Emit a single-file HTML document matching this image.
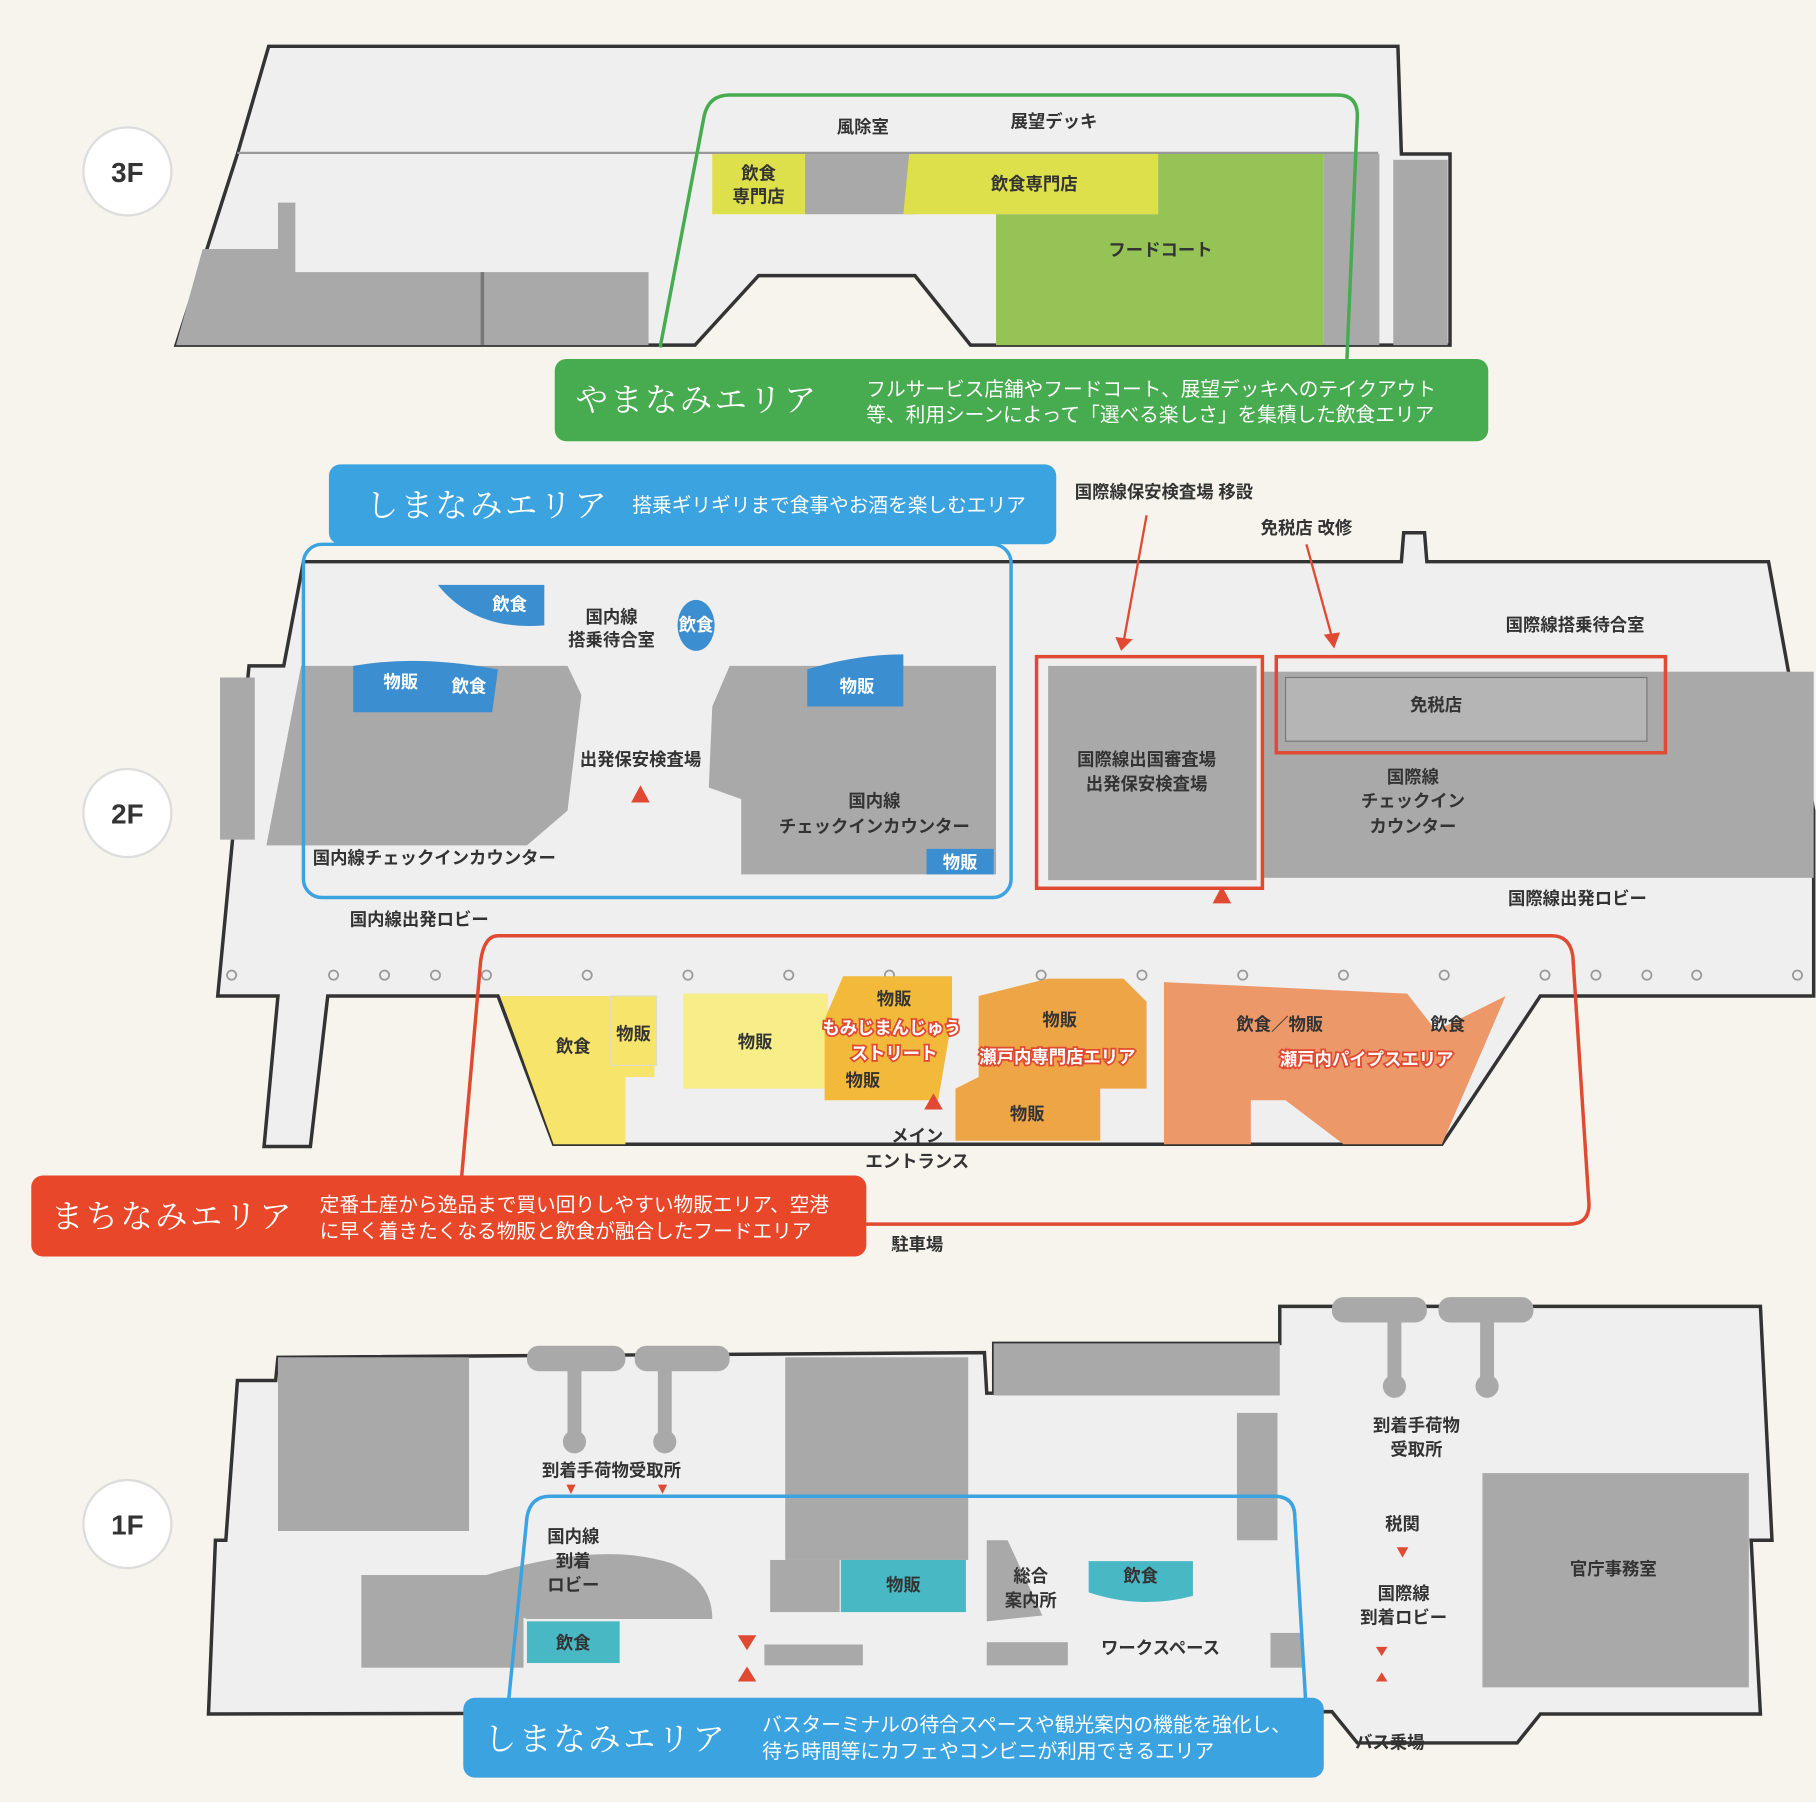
<!DOCTYPE html>
<html><head><meta charset="utf-8"><style>
html,body{margin:0;padding:0;background:#f6f4ec}
svg{display:block}
text{font-family:"Liberation Sans","Noto Sans CJK JP",sans-serif}
.l{font-size:15px;font-weight:bold;fill:#333}
.w{font-size:15px;font-weight:bold;fill:#fff}
.h{font-size:28px;fill:#fff;letter-spacing:2px;font-family:"Noto Serif CJK SC","Liberation Serif",serif}
.d{font-size:17px;fill:#fff}
</style></head><body>
<svg width="1816" height="1802" viewBox="0 0 1568 1556" preserveAspectRatio="none" xmlns="http://www.w3.org/2000/svg">
<rect width="1568" height="1556" fill="#f6f4ec"/>
<g fill="#fff" stroke="#ddd" stroke-width="2">
<circle cx="110" cy="148" r="38"/><circle cx="110" cy="702" r="38"/><circle cx="110" cy="1316" r="38"/></g>
<g font-size="24" font-weight="bold" fill="#333" text-anchor="middle"><text x="110" y="157">3F</text><text x="110" y="711">2F</text><text x="110" y="1325">1F</text></g>

<!-- 3F -->
<polygon points="232,40 1207,40 1210,133 1252,133 1252,298 838,298 790,238 655,238 600,298 152,298 205,133" fill="#efefef" stroke="#333" stroke-width="3"/>
<polygon points="175,215 240,215 240,175 255,175 255,235 560,235 560,298 152,298" fill="#a9a9a9"/>
<rect x="415" y="235" width="3" height="63" fill="#777"/>
<rect x="695" y="133" width="95" height="52" fill="#a9a9a9"/>
<rect x="1143" y="133" width="48" height="165" fill="#a9a9a9"/>
<rect x="1203" y="138" width="47" height="160" fill="#a9a9a9"/>
<rect x="615" y="133" width="80" height="52" fill="#dde04a"/>
<polygon points="785,133 1000,133 1000,185 780,185" fill="#dde04a"/>
<polygon points="1000,133 1143,133 1143,298 860,298 860,185 1000,185" fill="#96c356"/>
<line x1="205" y1="132" x2="1190" y2="132" stroke="#999" stroke-width="2"/>
<path d="M570,300 L608,100 Q612,82 630,82 L1155,82 Q1172,82 1172,100 L1163,310" fill="none" stroke="#47ab4f" stroke-width="3"/>
<text class="l" x="745" y="115" text-anchor="middle">風除室</text>
<text class="l" x="910" y="110" text-anchor="middle">展望デッキ</text>
<text class="l" x="655" y="155" text-anchor="middle">飲食</text><text class="l" x="655" y="175" text-anchor="middle">専門店</text>
<text class="l" x="893" y="164" text-anchor="middle">飲食専門店</text>
<text class="l" x="1002" y="221" text-anchor="middle" fill="#fff">フードコート</text>
<rect x="479" y="310" width="806" height="71" rx="10" fill="#47ab4f"/>
<text class="h" x="497" y="355">やまなみエリア</text>
<text class="d" x="748" y="342">フルサービス店舗やフードコート、展望デッキへのテイクアウト</text>
<text class="d" x="748" y="364">等、利用シーンによって「選べる楽しさ」を集積した飲食エリア</text>

<!-- 2F -->
<polygon points="262,485 1210,485 1212,460 1230,460 1232,485 1527,485 1566,700 1566,860 1330,860 1245,988 478,988 430,860 283,860 268,990 228,990 240,860 188,860 215,575 245,575" fill="#efefef" stroke="#333" stroke-width="3"/>
<polygon points="260,575 490,575 502,600 490,700 455,730 230,730" fill="#a9a9a9"/>
<polygon points="630,575 860,575 860,755 640,755 640,690 612,680 615,610" fill="#a9a9a9"/>
<rect x="905" y="575" width="180" height="185" fill="#a9a9a9"/>
<rect x="1090" y="580" width="476" height="178" fill="#a9a9a9"/>
<rect x="1110" y="585" width="312" height="55" fill="#b5b5b5" stroke="#777"/>
<rect x="190" y="585" width="30" height="140" fill="#a9a9a9"/>
<path d="M378,505 L470,505 L470,540 Q410,545 378,505Z" fill="#3b8fd0"/>
<path d="M305,575 Q360,565 430,578 L425,615 L305,615Z" fill="#3b8fd0"/>
<path d="M697,578 Q740,565 780,565 L780,610 L697,610Z" fill="#3b8fd0"/>
<ellipse cx="601" cy="540" rx="16" ry="22" fill="#3b8fd0"/>
<rect x="800" y="733" width="58" height="22" fill="#3b8fd0"/>
<g fill="none" stroke="#999" stroke-width="1.5">
<circle cx="200" cy="842" r="4"/><circle cx="288" cy="842" r="4"/><circle cx="332" cy="842" r="4"/><circle cx="376" cy="842" r="4"/><circle cx="420" cy="842" r="4"/><circle cx="507" cy="842" r="4"/><circle cx="594" cy="842" r="4"/><circle cx="681" cy="842" r="4"/><circle cx="768" cy="842" r="4"/><circle cx="899" cy="842" r="4"/><circle cx="986" cy="842" r="4"/><circle cx="1073" cy="842" r="4"/><circle cx="1160" cy="842" r="4"/><circle cx="1247" cy="842" r="4"/><circle cx="1334" cy="842" r="4"/><circle cx="1378" cy="842" r="4"/><circle cx="1422" cy="842" r="4"/><circle cx="1465" cy="842" r="4"/><circle cx="1552" cy="842" r="4"/></g>
<rect x="262" y="470" width="611" height="305" rx="16" fill="none" stroke="#3ba3e0" stroke-width="3"/>
<rect x="895" y="567" width="195" height="200" fill="none" stroke="#e04a33" stroke-width="3"/>
<rect x="1102" y="567" width="336" height="83" fill="none" stroke="#e04a33" stroke-width="3"/>
<path d="M990,445 L970,555" stroke="#e04a33" stroke-width="2"/><polygon points="963,550 978,552 968,562" fill="#e04a33"/>
<path d="M1128,470 L1150,550" stroke="#e04a33" stroke-width="2"/><polygon points="1143,548 1157,546 1152,560" fill="#e04a33"/>
<polygon points="553,678 545,693 561,693" fill="#e04a33"/>
<polygon points="1055,765 1047,780 1063,780" fill="#e04a33"/>
<polygon points="432,860 565,860 565,930 540,930 540,988 478,988" fill="#f7e46a"/>
<rect x="527" y="860" width="40" height="60" fill="#f7e46a" stroke="#ddc" />
<rect x="590" y="858" width="125" height="82" fill="#f7ee8a"/>
<polygon points="728,843 822,843 822,880 810,950 712,950 712,880" fill="#f2b93a"/>
<polygon points="845,860 905,845 970,845 990,865 990,940 950,940 950,985 825,985 825,940 845,930" fill="#eea545"/>
<polygon points="1005,848 1215,858 1240,890 1300,860 1245,988 1160,988 1110,950 1080,950 1080,988 1005,988" fill="#ec9868"/>
<path d="M430,808 L1340,808 Q1355,808 1358,825 L1372,1040 Q1372,1057 1355,1057 L395,1057 L415,830 Q418,808 430,808Z" fill="none" stroke="#e04a33" stroke-width="3"/>
<polygon points="806,944 798,958 814,958" fill="#e04a33"/>
<rect x="284" y="401" width="628" height="69" rx="10" fill="#3ba3e0"/>
<text class="h" x="316" y="446">しまなみエリア</text>
<text class="d" x="546" y="442">搭乗ギリギリまで食事やお酒を楽しむエリア</text>
<text class="l" x="1005" y="430" text-anchor="middle">国際線保安検査場 移設</text>
<text class="l" x="1128" y="461" text-anchor="middle">免税店 改修</text>
<text class="l" x="1360" y="545" text-anchor="middle">国際線搭乗待合室</text>
<text class="w" x="440" y="527" text-anchor="middle">飲食</text>
<text class="l" x="528" y="538" text-anchor="middle">国内線</text><text class="l" x="528" y="558" text-anchor="middle">搭乗待合室</text>
<text class="w" x="601" y="545" text-anchor="middle">飲食</text>
<text class="w" x="346" y="594" text-anchor="middle">物販</text><text class="w" x="405" y="598" text-anchor="middle">飲食</text>
<text class="w" x="740" y="598" text-anchor="middle">物販</text>
<text class="l" x="553" y="661" text-anchor="middle">出発保安検査場</text>
<text class="l" x="755" y="697" text-anchor="middle">国内線</text><text class="l" x="755" y="719" text-anchor="middle">チェックインカウンター</text>
<text class="w" x="829" y="750" text-anchor="middle">物販</text>
<text class="l" x="375" y="746" text-anchor="middle">国内線チェックインカウンター</text>
<text class="l" x="362" y="799" text-anchor="middle">国内線出発ロビー</text>
<text class="l" x="990" y="661" text-anchor="middle">国際線出国審査場</text><text class="l" x="990" y="682" text-anchor="middle">出発保安検査場</text>
<text class="l" x="1240" y="614" text-anchor="middle">免税店</text>
<text class="l" x="1220" y="676" text-anchor="middle">国際線</text><text class="l" x="1220" y="697" text-anchor="middle">チェックイン</text><text class="l" x="1220" y="719" text-anchor="middle">カウンター</text>
<text class="l" x="1362" y="781" text-anchor="middle">国際線出発ロビー</text>
<text class="l" x="495" y="909" text-anchor="middle">飲食</text><text class="l" x="547" y="898" text-anchor="middle">物販</text>
<text class="l" x="652" y="905" text-anchor="middle">物販</text>
<text class="l" x="772" y="868" text-anchor="middle">物販</text>
<text class="w" x="770" y="893" text-anchor="middle" stroke="#e04a33" stroke-width="3" paint-order="stroke">もみじまんじゅう</text>
<text class="w" x="772" y="915" text-anchor="middle" stroke="#e04a33" stroke-width="3" paint-order="stroke">ストリート</text>
<text class="l" x="745" y="938" text-anchor="middle">物販</text>
<text class="l" x="915" y="886" text-anchor="middle">物販</text>
<text class="w" x="913" y="918" text-anchor="middle" stroke="#e04a33" stroke-width="3" paint-order="stroke">瀬戸内専門店エリア</text>
<text class="l" x="887" y="967" text-anchor="middle">物販</text>
<text class="l" x="1105" y="890" text-anchor="middle">飲食／物販</text><text class="l" x="1250" y="890" text-anchor="middle">飲食</text>
<text class="w" x="1180" y="920" text-anchor="middle" stroke="#e04a33" stroke-width="3" paint-order="stroke">瀬戸内パイプスエリア</text>
<text class="l" x="792" y="986" text-anchor="middle">メイン</text><text class="l" x="792" y="1008" text-anchor="middle">エントランス</text>
<text class="l" x="792" y="1080" text-anchor="middle">駐車場</text>
<rect x="27" y="1015" width="721" height="70" rx="10" fill="#e8472a"/>
<text class="h" x="44" y="1060">まちなみエリア</text>
<text class="d" x="276" y="1046">定番土産から逸品まで買い回りしやすい物販エリア、空港</text>
<text class="d" x="276" y="1069">に早く着きたくなる物販と飲食が融合したフードエリア</text>

<!-- 1F -->
<polygon points="205,1192 238,1192 240,1172 850,1168 852,1203 858,1203 858,1160 1105,1160 1105,1128 1520,1128 1530,1330 1512,1330 1520,1480 1330,1480 1310,1505 1172,1505 1150,1478 180,1480 186,1330 195,1330" fill="#efefef" stroke="#333" stroke-width="3"/>
<rect x="240" y="1172" width="165" height="150" fill="#a9a9a9"/>
<rect x="678" y="1172" width="158" height="175" fill="#a9a9a9"/>
<rect x="858" y="1160" width="247" height="45" fill="#a9a9a9"/>
<rect x="1280" y="1272" width="230" height="185" fill="#a9a9a9"/>
<rect x="665" y="1347" width="60" height="45" fill="#a9a9a9"/>
<rect x="312" y="1360" width="140" height="80" fill="#a9a9a9"/>
<path d="M420,1360 Q520,1330 580,1350 Q615,1365 615,1398 L455,1398 L420,1385Z" fill="#a9a9a9"/>
<rect x="726" y="1347" width="108" height="45" fill="#47b8c4"/>
<rect x="455" y="1400" width="80" height="36" fill="#47b8c4"/>
<path d="M940,1348 L1030,1348 L1030,1378 Q985,1390 940,1375Z" fill="#47b8c4"/>
<path d="M852,1330 L870,1330 L900,1395 L852,1400Z" fill="#a9a9a9"/>
<rect x="1068" y="1220" width="35" height="110" fill="#a9a9a9"/>
<g fill="#a9a9a9"><rect x="455" y="1162" width="85" height="22" rx="10"/><rect x="548" y="1162" width="82" height="22" rx="10"/>
<rect x="490" y="1175" width="12" height="70"/><rect x="568" y="1175" width="12" height="70"/>
<circle cx="496" cy="1245" r="10"/><circle cx="574" cy="1245" r="10"/>
<rect x="1150" y="1120" width="82" height="22" rx="10"/><rect x="1242" y="1120" width="82" height="22" rx="10"/>
<rect x="1198" y="1135" width="12" height="60"/><rect x="1278" y="1135" width="12" height="60"/>
<circle cx="1204" cy="1197" r="10"/><circle cx="1284" cy="1197" r="10"/>
<rect x="660" y="1420" width="85" height="18"/><rect x="852" y="1418" width="70" height="20"/><rect x="1097" y="1410" width="28" height="30"/></g>
<polygon points="637,1412 653,1412 645,1425" fill="#e04a33"/><polygon points="637,1452 653,1452 645,1439" fill="#e04a33"/>
<polygon points="489,1282 497,1282 493,1290" fill="#e04a33"/><polygon points="568,1282 576,1282 572,1290" fill="#e04a33"/>
<polygon points="1206,1336 1216,1336 1211,1345" fill="#e04a33"/>
<polygon points="1188,1422 1198,1422 1193,1430" fill="#e04a33"/><polygon points="1188,1452 1198,1452 1193,1444" fill="#e04a33"/>
<path d="M438,1480 L455,1310 Q458,1292 475,1292 L1100,1292 Q1118,1292 1118,1310 L1128,1480" fill="none" stroke="#3ba3e0" stroke-width="3"/>
<text class="l" x="528" y="1275" text-anchor="middle">到着手荷物受取所</text>
<text class="l" x="495" y="1332" text-anchor="middle">国内線</text><text class="l" x="495" y="1353" text-anchor="middle">到着</text><text class="l" x="495" y="1374" text-anchor="middle">ロビー</text>
<text class="l" x="780" y="1374" text-anchor="middle">物販</text>
<text class="l" x="495" y="1424" text-anchor="middle">飲食</text>
<text class="l" x="890" y="1366" text-anchor="middle">総合</text><text class="l" x="890" y="1387" text-anchor="middle">案内所</text>
<text class="l" x="985" y="1366" text-anchor="middle">飲食</text>
<text class="l" x="1002" y="1428" text-anchor="middle">ワークスペース</text>
<text class="l" x="1223" y="1236" text-anchor="middle">到着手荷物</text><text class="l" x="1223" y="1257" text-anchor="middle">受取所</text>
<text class="l" x="1211" y="1321" text-anchor="middle">税関</text>
<text class="l" x="1212" y="1381" text-anchor="middle">国際線</text><text class="l" x="1212" y="1402" text-anchor="middle">到着ロビー</text>
<text class="l" x="1393" y="1360" text-anchor="middle">官庁事務室</text>
<text class="l" x="1200" y="1510" text-anchor="middle">バス乗場</text>
<rect x="400" y="1466" width="743" height="69" rx="10" fill="#3ba3e0"/>
<text class="h" x="418" y="1511">しまなみエリア</text>
<text class="d" x="658" y="1495">バスターミナルの待合スペースや観光案内の機能を強化し、</text>
<text class="d" x="658" y="1518">待ち時間等にカフェやコンビニが利用できるエリア</text>
</svg>
</body></html>
